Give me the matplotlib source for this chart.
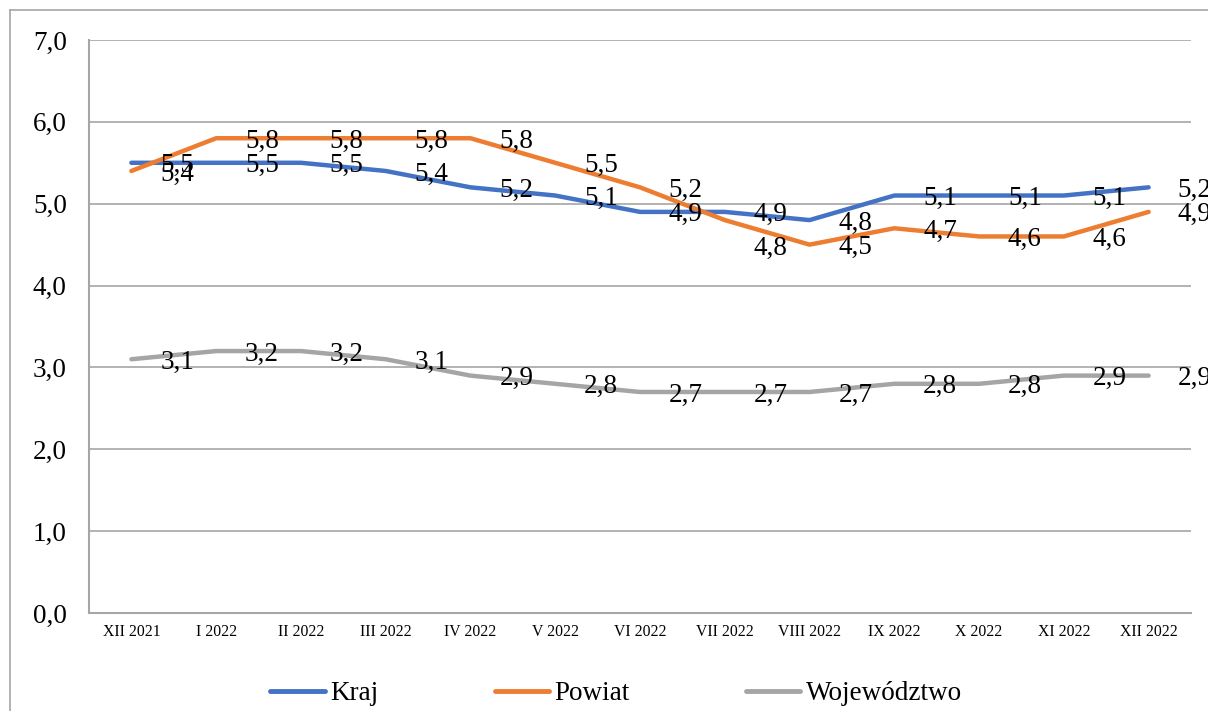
import matplotlib
matplotlib.use("Agg")
import matplotlib.pyplot as plt
from matplotlib.lines import Line2D

categories = ["XII 2021", "I 2022", "II 2022", "III 2022", "IV 2022", "V 2022",
              "VI 2022", "VII 2022", "VIII 2022", "IX 2022", "X 2022", "XI 2022", "XII 2022"]
kraj = [5.5, 5.5, 5.5, 5.4, 5.2, 5.1, 4.9, 4.9, 4.8, 5.1, 5.1, 5.1, 5.2]
powiat = [5.4, 5.8, 5.8, 5.8, 5.8, 5.5, 5.2, 4.8, 4.5, 4.7, 4.6, 4.6, 4.9]
wojewodztwo = [3.1, 3.2, 3.2, 3.1, 2.9, 2.8, 2.7, 2.7, 2.7, 2.8, 2.8, 2.9, 2.9]
series_names = ["Kraj", "Powiat", "Województwo"]
yticks = [0, 1, 2, 3, 4, 5, 6, 7]

colors = ["#4472C4", "#ED7D31", "#A5A5A5"]

plt.rcParams['font.family'] = ['Liberation Serif', 'DejaVu Serif']

W, H = 1208, 711
fig = plt.figure(figsize=(W / 100, H / 100), dpi=100)
ax = fig.add_axes([89 / W, (H - 613) / H, (1191 - 89) / W, (613 - 40) / H])

grid_c = "#A6A6A6"
x = list(range(len(categories)))
all_series = [kraj, powiat, wojewodztwo]
for vals, name, c in zip(all_series, series_names, colors):
    ax.plot(x, vals, color=c, lw=3.2, label=name, solid_capstyle='round', zorder=3)

# data labels (right of points)
fs = 19.5
for si, vals in enumerate(all_series):
    for i, v in enumerate(vals):
        dy = 0
        if si == 1 and i == 7:
            dy = -18
        ax.annotate(f"{v:.1f}".replace(".", ","), (i, v), xytext=(33, dy),
                    textcoords="offset points", ha="center", va="center_baseline",
                    fontsize=fs, color="black", zorder=5, annotation_clip=False)

ax.set_xlim(-0.5, len(categories) - 0.5)
ax.set_ylim(0, 7)
ax.set_yticks(yticks)
ax.set_yticklabels([f"{t:.1f}".replace(".", ",") for t in yticks], fontsize=fs)
ax.set_xticks(x)
ax.set_xticklabels(categories, fontsize=11.3)
ax.tick_params(axis='y', length=0, pad=16)
ax.tick_params(axis='x', length=0, pad=8)
ax.yaxis.grid(True, color=grid_c, lw=1.2)
ax.set_axisbelow(True)
for s in ["top", "right"]:
    ax.spines[s].set_visible(False)
for s in ["left", "bottom"]:
    ax.spines[s].set_color(grid_c)
    ax.spines[s].set_linewidth(1.5)

leg = fig.legend(loc="center", bbox_to_anchor=(616 / W, (H - 694) / H), ncol=3,
                 frameon=False, fontsize=fs, handlelength=2.0, handletextpad=0.2,
                 columnspacing=4.3)
for h in leg.legend_handles:
    h.set_linewidth(3.5)

# outer chart frame
fig.add_artist(Line2D([9.5 / W, 9.5 / W], [0, (H - 10) / H], color=grid_c, lw=1.2))
fig.add_artist(Line2D([9.5 / W, 1], [(H - 10) / H, (H - 10) / H], color=grid_c, lw=1.2))

fig.savefig("out.png", dpi=100)
